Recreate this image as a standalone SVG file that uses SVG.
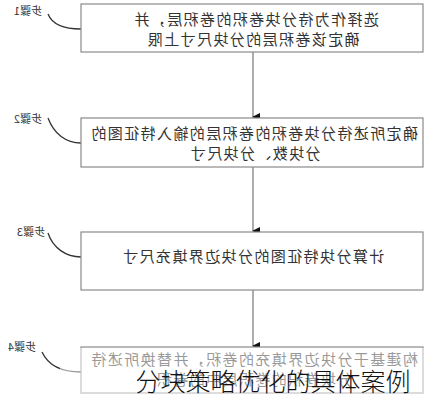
<svg xmlns="http://www.w3.org/2000/svg" width="429" height="400" viewBox="0 0 429 400">
<defs>
<style>
.box{fill:#fff;stroke:#8a8a8a;stroke-width:1.2}
.t{font-family:"Noto Sans CJK SC","Noto Sans",sans-serif;font-size:15px;fill:#333;text-anchor:middle;letter-spacing:1.4px}
.lbl{font-family:"Noto Sans CJK SC","Noto Sans",sans-serif;font-size:11px;fill:#333;text-anchor:middle}
.con{fill:none;stroke:#777;stroke-width:1.2}
.cur{fill:none;stroke:#333;stroke-width:1.3}
</style>
<marker id="ah" markerWidth="8" markerHeight="8" refX="4" refY="7" orient="auto" markerUnits="userSpaceOnUse" viewBox="0 0 8 8">
<path d="M0,0 L8,0 L4,8 Z" fill="#111"/>
</marker>
</defs>
<rect width="429" height="400" fill="#fff"/>
<g id="connectors">
<line class="con" x1="253" y1="52" x2="253" y2="117" marker-end="url(#ah)"/>
<line class="con" x1="253" y1="167" x2="253" y2="231" marker-end="url(#ah)"/>
<line class="con" x1="253" y1="290" x2="253" y2="346" marker-end="url(#ah)"/>
<path class="cur" d="M48,14 C52,24 64,29 81,29"/>
<path class="cur" d="M48,118 C54,134 66,143 81,143"/>
<path class="cur" d="M48,233 C53,248 66,257 81,257"/>
<path class="cur" d="M42,352 C48,365 62,372 81,372"/>
</g>
<g id="step1">
<text class="lbl" transform="scale(-1,1)" x="-28" y="15">步骤1</text>
<rect class="box" x="81" y="4" width="342" height="48"/>
<text class="t" transform="scale(-1,1)" x="-256" y="25">选择作为待分块卷积的卷积层，并</text>
<text class="t" transform="scale(-1,1)" x="-253" y="45">确定该卷积层的分块尺寸上限</text>
</g>
<g id="step2">
<text class="lbl" transform="scale(-1,1)" x="-28" y="123">步骤2</text>
<rect class="box" x="81" y="118" width="342" height="49"/>
<text class="t" transform="scale(-1,1)" x="-254" y="139">确定所述待分块卷积的卷积层的输入特征图的</text>
<text class="t" transform="scale(-1,1)" x="-255" y="159">分块数、分块尺寸</text>
</g>
<g id="step3">
<text class="lbl" transform="scale(-1,1)" x="-31" y="236">步骤3</text>
<rect class="box" x="81" y="232" width="342" height="58"/>
<text class="t" transform="scale(-1,1)" x="-253" y="262">计算分块特征图的分块边界填充尺寸</text>
</g>
<g id="step4">
<text class="lbl" transform="scale(-1,1)" x="-22" y="351">步骤4</text>
<rect class="box" x="81" y="347" width="342" height="46"/>
<text class="t" transform="scale(-1,1)" x="-254" y="365">构建基于分块边界填充的卷积，并替换所述待</text>
<text class="t" transform="scale(-1,1)" x="-254" y="385">分块卷积的卷积层中的卷积</text>
</g>
<rect x="60" y="348" width="369" height="52" fill="#fff" opacity="0.5"/>
<text x="273" y="391" font-family="'Noto Sans CJK SC',sans-serif" font-size="25" font-weight="300" fill="#111" text-anchor="middle">分块策略优化的具体案例</text>
</svg>
